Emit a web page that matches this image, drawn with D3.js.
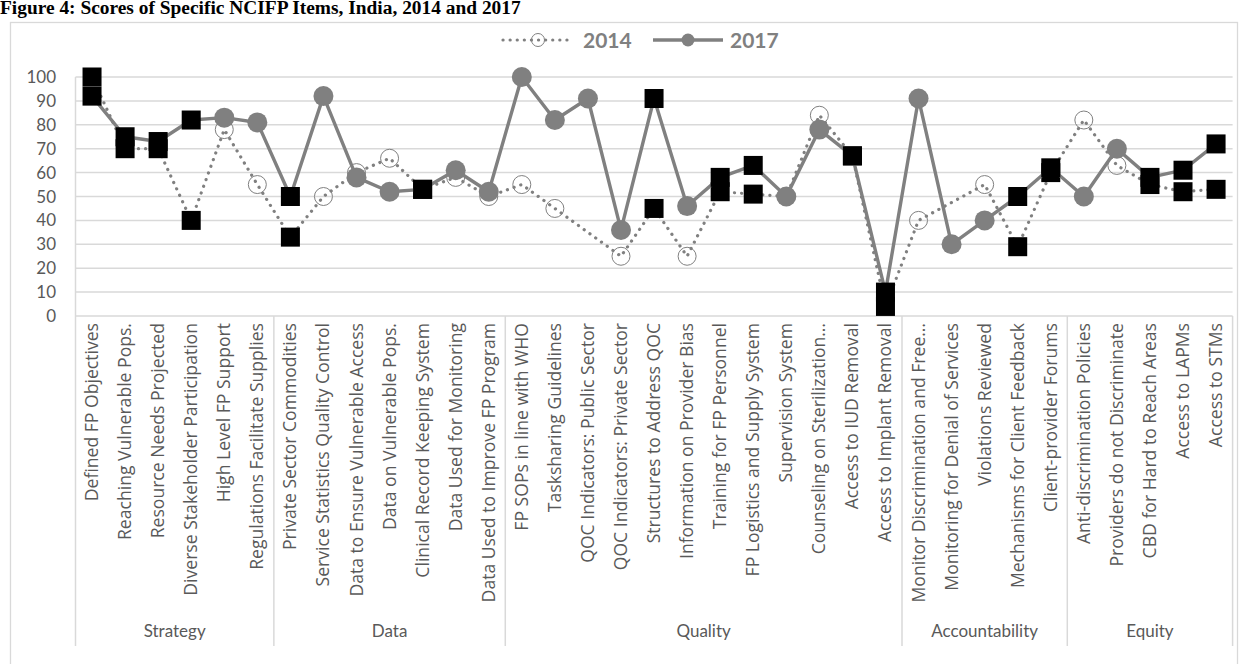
<!DOCTYPE html>
<html>
<head>
<meta charset="utf-8">
<script src="https://cdn.jsdelivr.net/npm/d3@7"></script>
<style>
  body { margin: 0; background: #fff; }
  svg { display: block; }
</style>
</head>
<body>
<svg id="chart" width="1243" height="664"></svg>
<script>
var categories = [
  "Defined FP Objectives", "Reaching Vulnerable Pops.", "Resource Needs Projected",
  "Diverse Stakeholder Participation", "High Level FP Support", "Regulations Facilitate Supplies",
  "Private Sector Commodities", "Service Statistics Quality Control", "Data to Ensure Vulnerable Access",
  "Data on Vulnerable Pops.", "Clinical Record Keeping System", "Data Used for Monitoring",
  "Data Used to Improve FP Program",
  "FP SOPs in line with WHO", "Tasksharing Guidelines", "QOC Indicators: Public Sector",
  "QOC Indicators: Private Sector", "Structures to Address QOC", "Information on Provider Bias",
  "Training for FP Personnel", "FP Logistics and Supply System", "Supervision System",
  "Counseling on Sterilization\u2026", "Access to IUD Removal", "Access to Implant Removal",
  "Monitor Discrimination and Free\u2026", "Monitoring for Denial of Services", "Violations Reviewed",
  "Mechanisms for Client Feedback", "Client-provider Forums",
  "Anti-discrimination Policies", "Providers do not Discriminate", "CBD for Hard to Reach Areas",
  "Access to LAPMs", "Access to STMs"
];
var groupNames = ["Strategy", "Data", "Quality", "Accountability", "Equity"];
var groupSizes = [6, 7, 12, 5, 5];

var scores2014 = [100, 70, 70, 40, 78, 55,
  33, 50, 60, 66, 53, 58, 50,
  55, 45, null, 25, 45, 25, 52, 51, 50, 84, 67, 4,
  40, null, 55, 29, 60,
  82, 63, 55, 52, 53];
var scores2017 = [92, 75, 73, 82, 83, 81,
  50, 92, 58, 52, 53, 61, 52,
  100, 82, 91, 36, 91, 46, 58, 63, 50, 78, 67, 10,
  91, 30, 40, 50, 62,
  50, 70, 58, 61, 72];
// items drawn with a black square marker instead of a circle
var squareItems = [1, 1, 1, 1, 0, 0,
  1, 0, 0, 0, 1, 0, 0,
  0, 0, 0, 0, 1, 0, 1, 1, 0, 0, 1, 1,
  0, 0, 0, 1, 1,
  0, 0, 1, 1, 1];
var yTicks = [0, 10, 20, 30, 40, 50, 60, 70, 80, 90, 100];

var grey = "#808080", textCol = "#595959", gridCol = "#d9d9d9",
    font = "Lato, 'Open Sans', sans-serif",
    labelFont = "'Open Sans', Lato, sans-serif";

var svg = d3.select("#chart");
var plotLeft = 75.5, plotRight = 1232.6, plotTop = 77, plotBottom = 316, axisBottom = 646;

var x = d3.scaleBand().domain(d3.range(categories.length)).range([plotLeft, plotRight]);
var y = d3.scaleLinear().domain([0, 100]).range([plotBottom, plotTop]);
function cx(i) { return x(i) + x.bandwidth() / 2; }

// title (cropped at top of page)
svg.append("text").attr("x", 0).attr("y", 14)
  .attr("font-family", "'Liberation Serif', 'Times New Roman', serif")
  .attr("font-weight", "bold").attr("font-size", 19.4).attr("fill", "#000")
  .text("Figure 4: Scores of Specific NCIFP Items, India, 2014 and 2017");

// chart area frame
svg.append("rect").attr("x", 10.5).attr("y", 22.5).attr("width", 1227).attr("height", 700)
  .attr("fill", "none").attr("stroke", gridCol).attr("stroke-width", 1.3);

// grid + y labels
svg.append("g").selectAll("line").data(yTicks).enter().append("line")
  .attr("x1", plotLeft).attr("x2", plotRight)
  .attr("y1", function(d) { return y(d); }).attr("y2", function(d) { return y(d); })
  .attr("stroke", gridCol).attr("stroke-width", 1.5);
svg.append("g").selectAll("text").data(yTicks).enter().append("text")
  .attr("x", 56).attr("y", function(d) { return y(d) + 6; })
  .attr("text-anchor", "end").attr("font-family", font).attr("font-size", 17)
  .attr("fill", textCol).text(function(d) { return d; });
svg.append("line").attr("x1", plotLeft).attr("x2", plotLeft).attr("y1", plotTop).attr("y2", plotBottom)
  .attr("stroke", gridCol).attr("stroke-width", 1.5);

// multi-level category axis
var bounds = [0], acc = 0;
groupSizes.forEach(function(n) { acc += n; bounds.push(acc); });
function edge(k) { return k < categories.length ? x(k) : plotRight; }
svg.append("g").selectAll("line").data(bounds).enter().append("line")
  .attr("x1", edge).attr("x2", edge)
  .attr("y1", plotBottom).attr("y2", axisBottom)
  .attr("stroke", gridCol).attr("stroke-width", 1.5);
svg.append("g").selectAll("text").data(groupNames).enter().append("text")
  .attr("x", function(d, i) { return (edge(bounds[i]) + edge(bounds[i + 1])) / 2; })
  .attr("y", 637).attr("text-anchor", "middle").attr("font-family", font)
  .attr("font-size", 17).attr("fill", textCol).text(function(d) { return d; });
svg.append("g").selectAll("text").data(categories).enter().append("text")
  .attr("transform", function(d, i) { return "translate(" + (cx(i) + 6) + "," + (plotBottom + 7) + ") rotate(-90)"; })
  .attr("text-anchor", "end").attr("font-family", labelFont).attr("font-size", 17.6)
  .attr("fill", textCol).text(function(d) { return d; });

// series
function points(vals) {
  return vals.map(function(v, i) { return { i: i, v: v, sq: squareItems[i] }; })
    .filter(function(d) { return d.v !== null; });
}
var line = d3.line().x(function(d) { return cx(d.i); }).y(function(d) { return y(d.v); });

function drawMarkers(g, pts, circleStyle, squareStroke) {
  pts.forEach(function(d) {
    if (d.sq) {
      g.append("rect").attr("x", cx(d.i) - 9.5).attr("y", y(d.v) - 9.5)
        .attr("width", 19).attr("height", 19).attr("fill", "#000")
        .attr("stroke", squareStroke).attr("stroke-width", 1);
    } else {
      circleStyle(g.append("circle").attr("cx", cx(d.i)).attr("cy", y(d.v)));
    }
  });
}

var p14 = points(scores2014), p17 = points(scores2017);
var g14 = svg.append("g");
g14.append("path").attr("d", line(p14)).attr("fill", "none").attr("stroke", grey)
  .attr("stroke-width", 3.2).attr("stroke-linecap", "round").attr("stroke-dasharray", "0.1 7");
drawMarkers(g14, p14, function(c) {
  c.attr("r", 9).attr("fill", "none").attr("stroke", grey).attr("stroke-width", 1);
}, "none");
var g17 = svg.append("g");
g17.append("path").attr("d", line(p17)).attr("fill", "none").attr("stroke", grey)
  .attr("stroke-width", 3.4).attr("stroke-linejoin", "round");
drawMarkers(g17, p17, function(c) { c.attr("r", 10).attr("fill", grey); }, "none");

// legend
var lg = svg.append("g").attr("transform", "translate(0,40)");
lg.append("line").attr("x1", 503).attr("x2", 574).attr("stroke", grey).attr("stroke-width", 3.2)
  .attr("stroke-linecap", "round").attr("stroke-dasharray", "0.1 7");
lg.append("circle").attr("cx", 538).attr("r", 6.5).attr("fill", "none").attr("stroke", grey);
lg.append("text").attr("x", 583).attr("y", 7.5).attr("font-family", font).attr("font-weight", "bold")
  .attr("font-size", 21).attr("fill", grey).text("2014");
lg.append("line").attr("x1", 653).attr("x2", 723).attr("stroke", grey).attr("stroke-width", 3.4);
lg.append("circle").attr("cx", 688).attr("r", 6.5).attr("fill", grey);
lg.append("text").attr("x", 730).attr("y", 7.5).attr("font-family", font).attr("font-weight", "bold")
  .attr("font-size", 21).attr("fill", grey).text("2017");
</script>
</body>
</html>
